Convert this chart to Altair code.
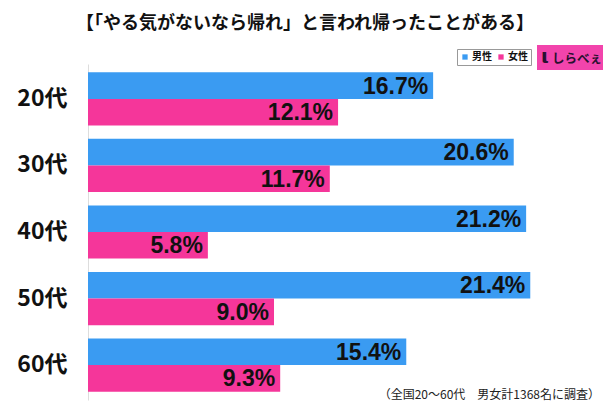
import altair as alt
import pandas as pd

ages = ["20代", "30代", "40代", "50代", "60代"]
men = [16.7, 20.6, 21.2, 21.4, 15.4]
women = [12.1, 11.7, 5.8, 9.0, 9.3]
sexes = ["男性", "女性"]
colors = ["#3A9BF2", "#F5369A"]

title_text = "【「やる気がないなら帰れ」と言われ帰ったことがある】"
note_text = "（全国20～60代　男女計1368名に調査）"
logo_text = "しらべぇ"

rows = []
for a, m, w in zip(ages, men, women):
    rows.append({"age": a, "sex": "男性", "value": m, "label": f"{m:.1f}%"})
    rows.append({"age": a, "sex": "女性", "value": w, "label": f"{w:.1f}%"})
df = pd.DataFrame(rows)

JP = "Noto Sans CJK JP"
NUM = "Liberation Sans"

base = alt.Chart(df).encode(
    y=alt.Y("age:N", sort=ages, title=None,
            scale=alt.Scale(paddingInner=0.2, paddingOuter=0.125),
            axis=alt.Axis(labelFont=JP, labelFontSize=23, labelFontWeight="bold",
                          labelColor="#111", ticks=False, labelPadding=21,
                          domainColor="#dddddd", domainWidth=1)),
    yOffset=alt.YOffset("sex:N", sort=sexes,
                        scale=alt.Scale(paddingInner=0, paddingOuter=0)),
)

bars = base.mark_bar().encode(
    x=alt.X("value:Q", scale=alt.Scale(domain=[0, 24]), axis=None),
    color=alt.Color("sex:N", sort=sexes,
                    scale=alt.Scale(domain=sexes, range=colors),
                    legend=alt.Legend(title=None, orient="none", legendX=369, legendY=-15,
                                      direction="horizontal", symbolType="square",
                                      symbolSize=28, symbolStrokeWidth=0,
                                      labelFont=JP, labelFontSize=10, labelFontWeight="bold",
                                      labelColor="#111", columnPadding=4, labelOffset=2,
                                      padding=3, strokeColor="#999", fillColor="white")),
)

labels = base.mark_text(align="right", baseline="middle", dx=-5, dy=1,
                        font=NUM, fontSize=23, fontWeight="bold", color="#111").encode(
    x=alt.X("value:Q"),
    text=alt.Text("label:N"),
)

title = alt.Chart(pd.DataFrame({"t": [title_text]})).mark_text(
    font=JP, fontSize=18, fontWeight="bold", color="#111", align="center", baseline="middle"
).encode(x=alt.value(217), y=alt.value(-40), text="t:N")

logo_bg = alt.Chart(pd.DataFrame({"t": [logo_text]})).mark_rect(color="#F244AC").encode(
    x=alt.value(449), x2=alt.value(515), y=alt.value(-19), y2=alt.value(6)
)
logo_txt = alt.Chart(pd.DataFrame({"t": [logo_text]})).mark_text(
    font=JP, fontSize=12.5, fontWeight="bold", color="#2a1030", align="left", baseline="middle"
).encode(x=alt.value(464), y=alt.value(-5), text="t:N")
logo_i = alt.Chart(pd.DataFrame({"t": ["ι"]})).mark_text(
    font="DejaVu Sans", fontSize=20, fontWeight="bold", color="#2a1030", align="center", baseline="middle"
).encode(x=alt.value(457), y=alt.value(-7), text="t:N")

note = alt.Chart(pd.DataFrame({"t": [note_text]})).mark_text(
    font=JP, fontSize=12, color="#222", align="right", baseline="middle"
).encode(x=alt.value(512), y=alt.value(331), text="t:N")

chart = alt.layer(bars, labels, title, logo_bg, logo_txt, logo_i, note).properties(
    width=496, height=336,
    autosize=alt.AutoSizeParams(type="none"),
    padding={"left": 80, "top": 56, "right": 22, "bottom": 5},
).configure_view(stroke=None)

chart.save("out.html", embed_options={"renderer": "svg", "actions": False})
